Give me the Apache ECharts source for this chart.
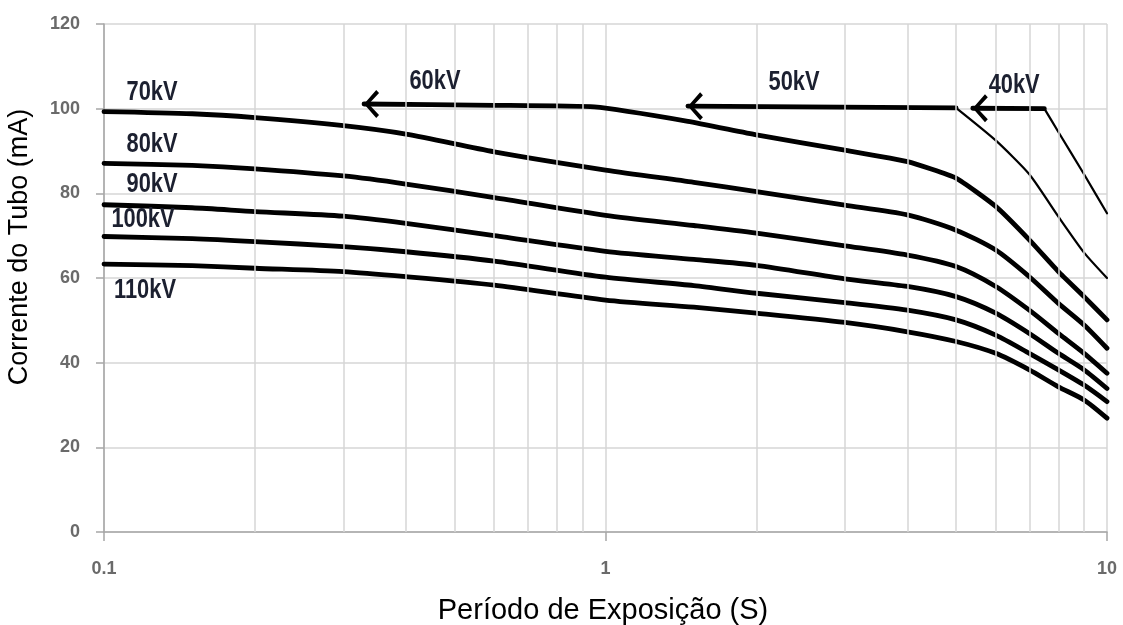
<!DOCTYPE html>
<html>
<head>
<meta charset="utf-8">
<script src="https://cdn.jsdelivr.net/npm/echarts@6/dist/echarts.min.js"></script>
<style>
html,body{margin:0;padding:0;background:#ffffff;}
#chart{width:1123px;height:625px;}
</style>
</head>
<body>
<div id="chart"></div>
<script>
// ---- data ----
const exposureTimes = [0.1, 0.15, 0.2, 0.3, 0.4, 0.6, 1, 1.5, 2, 3, 4, 5, 6, 7, 8, 9, 10];
const current70kV  = [99.3, 98.8, 97.9, 96.0, 94.0, 89.8, 85.5, 82.6, 80.4, 77.2, 74.9, 71.3, 66.6, 60.3, 54.0, 48.9, 43.4];
const current80kV  = [87.1, 86.6, 85.8, 84.1, 82.2, 79.0, 74.8, 72.4, 70.6, 67.6, 65.4, 62.7, 58.0, 52.4, 46.9, 42.2, 37.5];
const current90kV  = [77.3, 76.6, 75.7, 74.6, 72.9, 70.0, 66.3, 64.4, 63.0, 59.8, 58.0, 55.6, 51.7, 46.9, 42.2, 38.3, 33.9];
const current100kV = [69.8, 69.3, 68.6, 67.4, 66.2, 64.0, 60.2, 58.2, 56.4, 54.2, 52.4, 50.1, 46.5, 42.2, 38.3, 34.7, 30.8];
const current110kV = [63.3, 62.9, 62.3, 61.5, 60.3, 58.3, 54.8, 53.1, 51.7, 49.5, 47.3, 45.0, 42.2, 38.3, 34.3, 31.2, 26.9];

const times60kV   = [0.33, 0.6, 0.95, 1.46, 2, 3, 4, 5, 6, 7, 8, 9, 10];
const current60kV = [101.1, 100.8, 100.4, 97.0, 93.8, 90.2, 87.5, 83.6, 76.9, 69.0, 61.5, 55.6, 50.1];

const times50kVFlat   = [1.46, 5.0];
const current50kVFlat = [100.6, 100.2];
const times50kVFall   = [5.0, 6, 7, 8, 9, 10];
const current50kVFall = [100.2, 92.5, 84.5, 74.5, 66.0, 60.0];

const times40kVFlat   = [5.4, 7.5];
const current40kVFlat = [100.1, 100.0];
const times40kVFall   = [7.5, 8, 9, 10];
const current40kVFall = [100.0, 94.5, 84.5, 75.3];

const curveLabelTexts = ['70kV', '80kV', '90kV', '100kV', '110kV', '60kV', '50kV', '40kV'];
const curveLabelTimes = [0.1247, 0.1247, 0.1247, 0.1196, 0.1207, 0.457, 2.377, 6.53];
const curveLabelCurrents = [103.9, 91.6, 82.2, 73.9, 57.0, 106.4, 106.2, 105.6];

const minorGridTimes = [0.2, 0.3, 0.4, 0.5, 0.6, 0.7, 0.8, 0.9, 2, 3, 4, 5, 6, 7, 8, 9];

const xAxisTitle = 'Período de Exposição (S)';
const yAxisTitle = 'Corrente do Tubo (mA)';

// ---- helpers ----
function pairs(xs, ys) { return xs.map((x, i) => [x, ys[i]]); }
const chevron = 'path://M13,0 L0,14 L13,28 L16,25 L5,14 L16,3 Z';
function withArrow(pts) {
  return pts.map((p, i) => i === 0
    ? { value: p, symbol: chevron, symbolSize: [15, 28], symbolOffset: ['50%', 0], itemStyle: { color: '#000', opacity: 1 } }
    : { value: p });
}

const thick = 4.8, thin = 2.2;
function curve(name, data, width, smooth) {
  return {
    name: name, type: 'line', data: data, z: 3,
    symbol: 'none', showSymbol: true, smooth: smooth,
    lineStyle: { color: '#000', width: width, cap: 'round', join: 'round' },
    itemStyle: { color: '#000' },
    emphasis: { disabled: true }, silent: true, animation: false
  };
}

const series = [
  {
    name: 'minorGrid', type: 'line', data: [], z: 1, silent: true, animation: false,
    markLine: {
      silent: true, symbol: 'none', animation: false,
      label: { show: false },
      lineStyle: { color: '#d6d6d6', width: 1.5, type: 'solid' },
      data: minorGridTimes.map(t => ({ xAxis: t }))
    }
  },
  curve('70kV', pairs(exposureTimes, current70kV), thick, 0.25),
  curve('80kV', pairs(exposureTimes, current80kV), thick, 0.25),
  curve('90kV', pairs(exposureTimes, current90kV), thick, 0.25),
  curve('100kV', pairs(exposureTimes, current100kV), thick, 0.25),
  curve('110kV', pairs(exposureTimes, current110kV), thick, 0.25),
  curve('60kV', withArrow(pairs(times60kV, current60kV)), thick, 0.15),
  curve('50kV', withArrow(pairs(times50kVFlat, current50kVFlat)), thick, false),
  curve('50kV fall', pairs(times50kVFall, current50kVFall), thin, 0.2),
  curve('40kV', withArrow(pairs(times40kVFlat, current40kVFlat)), thick, false),
  curve('40kV fall', pairs(times40kVFall, current40kVFall), thin, 0.1)
];

const axisTitleGraphics = [
  {
    type: 'text', x: 603, y: 611, silent: true,
    style: { text: xAxisTitle, font: '29px "Liberation Sans", Arial, sans-serif', fill: '#000', textAlign: 'center', textVerticalAlign: 'middle' }
  },
  {
    type: 'text', x: 20, y: 247, rotation: Math.PI / 2, silent: true,
    style: { text: yAxisTitle, font: '27px "Liberation Sans", Arial, sans-serif', fill: '#000', textAlign: 'center', textVerticalAlign: 'middle' }
  }
];

const chart = echarts.init(document.getElementById('chart'), null, { renderer: 'canvas' });
chart.setOption({
  animation: false,
  backgroundColor: '#ffffff',
  grid: { left: 104, right: 16, top: 24, bottom: 93, containLabel: false },
  xAxis: {
    type: 'log', logBase: 10, min: 0.1, max: 10,
    axisLine: { show: true, lineStyle: { color: '#a6a6a6', width: 1.5 } },
    axisTick: { show: true, length: 9, lineStyle: { color: '#a6a6a6', width: 1.5 } },
    axisLabel: {
      margin: 28, color: '#6a6a6a', fontSize: 18, fontWeight: 'bold',
      fontFamily: '"Liberation Sans", Arial, sans-serif',
      formatter: v => String(+Number(v).toPrecision(3))
    },
    splitLine: { show: true, lineStyle: { color: '#d6d6d6', width: 1.5 } },
    minorTick: { show: false }, minorSplitLine: { show: false }
  },
  yAxis: {
    type: 'value', min: 0, max: 120, interval: 20,
    axisLine: { show: true, lineStyle: { color: '#a6a6a6', width: 1.5 } },
    axisTick: { show: true, length: 8, lineStyle: { color: '#a6a6a6', width: 1.5 } },
    axisLabel: {
      margin: 24, color: '#6a6a6a', fontSize: 18, fontWeight: 'bold',
      fontFamily: '"Liberation Sans", Arial, sans-serif'
    },
    splitLine: { show: true, lineStyle: { color: '#d6d6d6', width: 1.5 } }
  },
  graphic: axisTitleGraphics,
  series: series
});

// curve labels placed at data coordinates through the chart's own scales
const labelGraphics = curveLabelTexts.map((t, i) => {
  const p = chart.convertToPixel({ gridIndex: 0 }, [curveLabelTimes[i], curveLabelCurrents[i]]);
  return {
    type: 'text', x: p[0], y: p[1], scaleX: 0.78, silent: true, z: 10,
    style: {
      text: t, font: 'bold 28px "Liberation Sans", Arial, sans-serif',
      fill: '#1c2030', textAlign: 'center', textVerticalAlign: 'middle'
    }
  };
});
chart.setOption({ graphic: axisTitleGraphics.concat(labelGraphics) });
</script>
</body>
</html>
